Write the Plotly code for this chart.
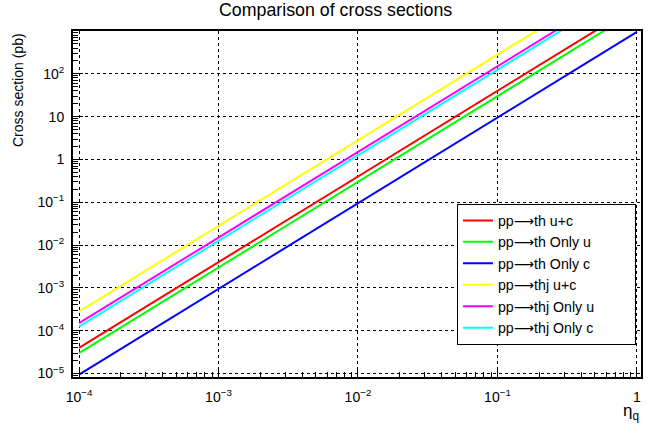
import plotly.graph_objects as go

# Coupling values (eta_q) at which the cross sections are evaluated
eta_q = [1e-4, 1e-3, 1e-2, 1e-1, 1.0]

# Cross sections in pb for each process / flavour assumption
th_uc = [4.0e-5, 4.0e-3, 0.40, 40.0, 4000.0]
th_u = [3.0e-5, 3.0e-3, 0.30, 30.0, 3000.0]
th_c = [9.5e-6, 9.5e-4, 0.095, 9.5, 950.0]
thj_uc = [2.8e-4, 2.8e-2, 2.8, 280.0, 28000.0]
thj_u = [1.5e-4, 1.5e-2, 1.5, 150.0, 15000.0]
thj_c = [1.25e-4, 1.25e-2, 1.25, 125.0, 12500.0]

ARROW = '<span style="font-family:DejaVu Sans">⟶</span>'
PAD = "\u00a0" * 9  # right padding inside the legend box
series_names = ["pp" + ARROW + "th u+c", "pp" + ARROW + "th Only u",
                "pp" + ARROW + "th Only c", "pp" + ARROW + "thj u+c",
                "pp" + ARROW + "thj Only u", "pp" + ARROW + "thj Only c"]
series_values = [th_uc, th_u, th_c, thj_uc, thj_u, thj_c]
series_colors = ["#ff0000", "#00ff00", "#0000ff", "#ffff00", "#ff00ff", "#00ffff"]

# Axis tick labels
x_tickvals = [1e-4, 1e-3, 1e-2, 1e-1, 1]
x_ticktext = ["10<sup>−4</sup>", "10<sup>−3</sup>", "10<sup>−2</sup>", "10<sup>−1</sup>", "1"]
y_tickvals = [1e-5, 1e-4, 1e-3, 1e-2, 1e-1, 1, 10, 100]
y_ticktext = ["10<sup>−5</sup>", "10<sup>−4</sup>", "10<sup>−3</sup>", "10<sup>−2</sup>",
              "10<sup>−1</sup>", "1", "10", "10<sup>2</sup>"]

FONT = "Liberation Sans, Arial, Helvetica, sans-serif"

fig = go.Figure()
for name, vals, col in zip(series_names, series_values, series_colors):
    fig.add_trace(go.Scatter(x=eta_q, y=vals, mode="lines", name=name + PAD,
                             line=dict(color=col, width=2)))

minor_x = [m * 10 ** e for e in range(-5, 1) for m in range(2, 10)]
minor_y = [m * 10 ** e for e in range(-6, 4) for m in range(2, 10)]

fig.update_layout(
    width=671, height=426,
    margin=dict(l=73, r=30, t=31, b=49),
    paper_bgcolor="white", plot_bgcolor="white",
    font=dict(family=FONT, color="black", size=14),
    showlegend=True,
    legend=dict(x=0.676, y=0.501, xanchor="left", yanchor="top",
                bgcolor="white", bordercolor="black", borderwidth=1,
                font=dict(size=14.2, family=FONT), tracegroupgap=0),
    xaxis=dict(type="log", range=[-4.043, 0.029],
               tickmode="array", tickvals=x_tickvals, ticktext=x_ticktext,
               ticks="inside", ticklen=10, tickcolor="black",
               ticklabelstandoff=6,
               showline=True, linecolor="black", linewidth=2, mirror=True,
               showgrid=True, gridcolor="black", griddash="dot", gridwidth=1,
               zeroline=False, tickfont=dict(size=14),
               minor=dict(tickmode="array", tickvals=minor_x, ticks="inside",
                          ticklen=5, tickcolor="black", showgrid=False)),
    yaxis=dict(type="log", range=[-5.08, 3.0],
               tickmode="array", tickvals=y_tickvals, ticktext=y_ticktext,
               ticks="inside", ticklen=10, tickcolor="black",
               ticklabelstandoff=4,
               showline=True, linecolor="black", linewidth=2, mirror=True,
               showgrid=True, gridcolor="black", griddash="dot", gridwidth=1,
               zeroline=False, tickfont=dict(size=14),
               minor=dict(tickmode="array", tickvals=minor_y, ticks="inside",
                          ticklen=5, tickcolor="black", showgrid=False)),
    annotations=[
        dict(text="Comparison of cross sections", xref="paper", yref="paper",
             x=0.463, y=1.0, yshift=21, xanchor="center", yanchor="middle",
             showarrow=False, font=dict(size=17.8, family=FONT)),
        dict(text="Cross section (pb)", xref="paper", yref="paper",
             x=0, xshift=-55, y=1.0, xanchor="center", yanchor="top",
             textangle=-90, showarrow=False, font=dict(size=14, family=FONT)),
        dict(text="η<sub>q</sub>", xref="paper", yref="paper",
             x=1.0, y=0, yshift=-35, xanchor="right", yanchor="middle",
             showarrow=False, font=dict(size=17, family=FONT)),
    ],
)

fig.write_html("out.html")
